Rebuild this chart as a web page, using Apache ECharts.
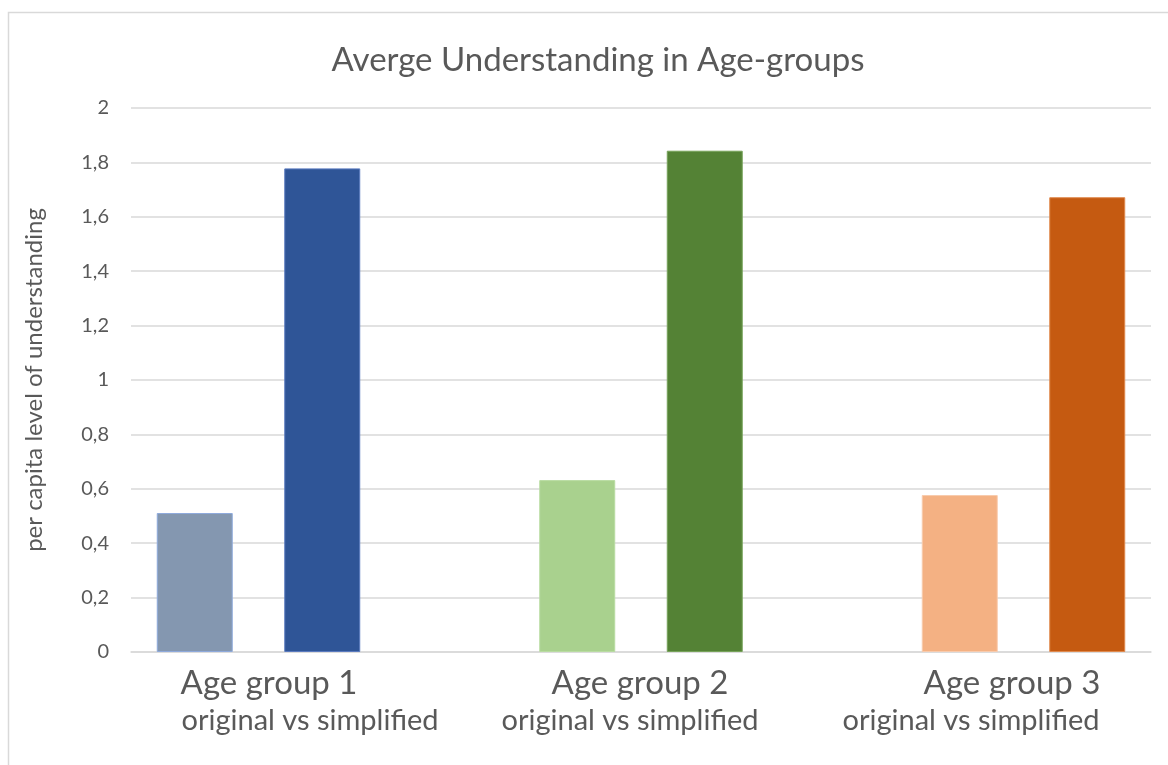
<!DOCTYPE html>
<html>
<head>
<meta charset="utf-8">
<style>
  html, body { margin: 0; padding: 0; background: #ffffff; }
  #chart { width: 1168px; height: 765px; }
</style>
<script src="https://cdn.jsdelivr.net/npm/echarts@6/dist/echarts.min.js"></script>
</head>
<body>
<div id="chart"></div>
<script>
// Average understanding per age group: original text vs simplified text
const groups = ['Age group 1', 'Age group 2', 'Age group 3'];
const groupSubtitle = 'original vs simplified';
const originalValues = [0.511, 0.632, 0.577];
const simplifiedValues = [1.778, 1.843, 1.672];
const originalColors = ['#8497B0', '#A9D18E', '#F4B183'];
const simplifiedColors = ['#2F5597', '#548235', '#C55A11'];
const originalBorders = ['#8FAADC', '#B9DCA2', '#F8CBAD'];
const simplifiedBorders = ['#5B7BBF', '#77A35A', '#E08A4E'];
const yTicks = [0, 0.2, 0.4, 0.6, 0.8, 1, 1.2, 1.4, 1.6, 1.8, 2];

// Each group takes two slots, with an empty slot between groups
const slots = [];
const barData = [];
groups.forEach((g, i) => {
  slots.push(g + ' original', g + ' simplified');
  barData.push(
    { value: originalValues[i], itemStyle: { color: originalColors[i], borderColor: originalBorders[i] } },
    { value: simplifiedValues[i], itemStyle: { color: simplifiedColors[i], borderColor: simplifiedBorders[i] } }
  );
  if (i < groups.length - 1) {
    slots.push('gap ' + i);
    barData.push(null);
  }
});

const FONT = 'Lato';
const TEXT = '#595959';

const chart = echarts.init(document.getElementById('chart'), null, { renderer: 'canvas' });

// Group captions beneath the axis
const groupLabelX = [269, 640, 1012];
const subLabelX = [310, 630, 971];
const captions = [];
groups.forEach((g, i) => {
  captions.push({
    type: 'text', x: groupLabelX[i], y: 683,
    style: { text: g, font: '33px "' + FONT + '"', fill: TEXT, align: 'center', verticalAlign: 'middle' }
  });
  captions.push({
    type: 'text', x: subLabelX[i], y: 721,
    style: { text: groupSubtitle, font: '29px "' + FONT + '"', fill: TEXT, align: 'center', verticalAlign: 'middle' }
  });
});

chart.setOption({
  animation: false,
  backgroundColor: '#ffffff',
  textStyle: { fontFamily: FONT },
  title: {
    text: 'Averge Understanding in Age-groups',
    left: 593, top: 55, textAlign: 'center', textVerticalAlign: 'middle',
    textStyle: { fontFamily: FONT, fontSize: 33, fontWeight: 'normal', color: TEXT }
  },
  grid: { left: 131, right: 17, top: 108, bottom: 113 },
  xAxis: {
    type: 'category',
    data: slots,
    axisLine: { show: true, lineStyle: { color: '#D9D9D9', width: 1.5 } },
    axisTick: { show: false },
    axisLabel: { show: false },
    splitLine: { show: false }
  },
  yAxis: {
    type: 'value',
    min: 0, max: 2, interval: 0.2,
    name: 'per capita level of understanding',
    nameLocation: 'middle',
    nameGap: 85,
    nameRotate: 90,
    nameTextStyle: { fontFamily: FONT, fontSize: 24, color: TEXT },
    axisLine: { show: false },
    axisTick: { show: false },
    axisLabel: {
      margin: 22,
      fontFamily: FONT, fontSize: 20, color: TEXT,
      formatter: v => {
        const t = yTicks.find(x => Math.abs(x - v) < 1e-9);
        return String(t !== undefined ? t : v).replace('.', ',');
      }
    },
    splitLine: { lineStyle: { color: '#D9D9D9', width: 1.5 } }
  },
  series: [{
    type: 'bar',
    data: barData,
    barWidth: '59.6%',
    itemStyle: { borderWidth: 1 }
  }],
  graphic: [
    {
      type: 'rect', silent: true, z: -1,
      shape: { x: 8.5, y: 12.5, width: 1200, height: 800 },
      style: { fill: 'none', stroke: '#D9D9D9', lineWidth: 1.5 }
    }
  ].concat(captions)
});
</script>
</body>
</html>
